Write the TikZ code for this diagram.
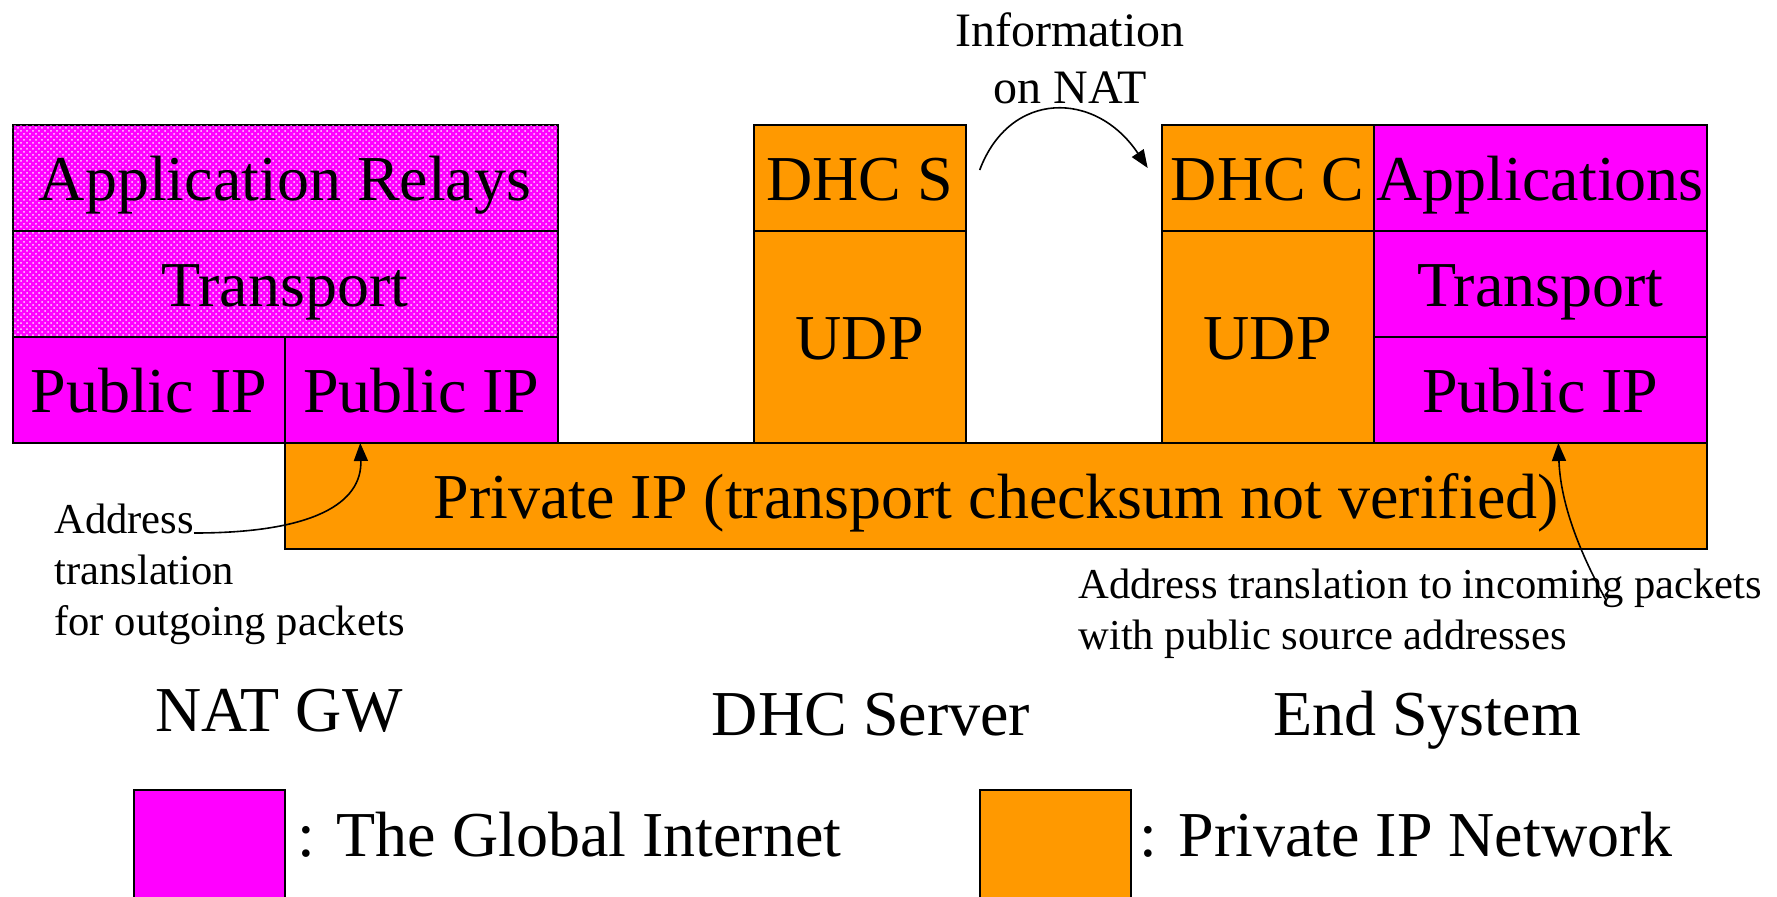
\documentclass[tikz,border=0pt]{standalone}
\usepackage{fontspec}
\setmainfont{Liberation Serif}
\usetikzlibrary{positioning,patterns,arrows.meta}

\definecolor{inetmag}{HTML}{FF00FF}
\definecolor{privorange}{HTML}{FF9900}

\tikzset{
  layer/.style={draw, line width=1pt, inner sep=0pt, outer sep=0pt,
    minimum height=53pt, text height=22pt, text depth=0pt,
    font=\fontsize{32}{36}\selectfont},
  global/.style={layer, fill=inetmag},
  relay/.style={global, postaction={pattern=crosshatch dots, pattern color=white!85!inetmag}},
  private/.style={layer, fill=privorange},
  note/.style={inner sep=0pt, align=left, font=\fontsize{21.3}{25.5}\selectfont},
  caption/.style={inner sep=0pt, font=\fontsize{32}{36}\selectfont},
  link/.style={-{Triangle[length=9pt,width=7pt]}, line width=0.8pt},
}

\begin{document}
\begin{tikzpicture}[x=1pt, y=-1pt]
\clip (0,0) rectangle (888.5,448);

%% NAT gateway stack
\node[relay, minimum width=272.5pt, anchor=north west] (relays) at (6.25,62.5) {Application Relays};
\node[relay, minimum width=272.5pt, below=0pt of relays] (gwtrans) {Transport};
\node[global, minimum width=136.25pt, anchor=north west] (gwpubA) at (gwtrans.south west) {Public IP};
\node[global, minimum width=136.25pt, anchor=north east] (gwpubB) at (gwtrans.south east) {Public IP};

\node[private, minimum width=711.15pt, anchor=north west] (privip) at (gwpubB.south west)
  {Private IP (transport checksum not verified)};

%% DHC server
\node[private, minimum width=106pt, anchor=north west] (dhcs) at (376.85,62.5) {DHC S};
\node[private, minimum width=106pt, minimum height=106pt, below=0pt of dhcs] (srvudp) {UDP};

%% end system
\node[private, minimum width=106pt, anchor=north west] (dhcc) at (580.85,62.5) {DHC C};
\node[private, minimum width=106pt, minimum height=106pt, below=0pt of dhcc] (esudp) {UDP};
\node[global, minimum width=166.6pt, right=0pt of dhcc] (apps) {Applications};
\node[global, minimum width=166.6pt, below=0pt of apps] (estrans) {Transport};
\node[global, minimum width=166.6pt, below=0pt of estrans] (espub) {Public IP};

%% notes and arrows
\node[inner sep=0pt, align=center, font=\fontsize{24}{28.3}\selectfont, anchor=north]
  (info) at (535,6.3) {Information\\on NAT};
\draw[link] ([shift={(7pt,4pt)}]dhcs.east) .. controls +(15pt,40pt) and +(-26pt,39pt) .. ([shift={(-7pt,5pt)}]dhcc.west);

\node[note, anchor=north west] (outnote) at (27,251.9) {Address\\translation\\for outgoing packets};
\coordinate (outfrom) at (97,266.5);
\draw[link] (outfrom) .. controls +(60pt,0pt) and +(1pt,-30pt) .. ([xshift=-30.5pt]gwpubB.south);

\node[note, anchor=north west] (innote) at (539,284.4) {Address translation to incoming packets\\with public source addresses};
\coordinate (infrom) at (803,300);
\draw[link] (infrom) .. controls +(-15pt,27pt) and +(1pt,-28pt) .. ([xshift=9pt]espub.south);

%% captions
\node[caption, anchor=base] (natgw) at (139.5,365.5) {NAT GW};
\node[caption, anchor=base] (dhcsrv) at (435.5,367.5) {DHC Server};
\node[caption, anchor=base] (endsys) at (713.5,367.5) {End System};

%% legend
\node[global, minimum width=75.25pt, minimum height=60pt, anchor=north west] (keyglobal) at (67,395) {};
\node[caption, anchor=base west] (keyglobaltxt) at (148.5,428) {: The Global Internet};
\node[private, minimum width=75.5pt, minimum height=60pt, anchor=north west] (keyprivate) at (490,395) {};
\node[caption, anchor=base west] (keyprivatetxt) at (569.5,428) {: Private IP Network};
\end{tikzpicture}
\end{document}
